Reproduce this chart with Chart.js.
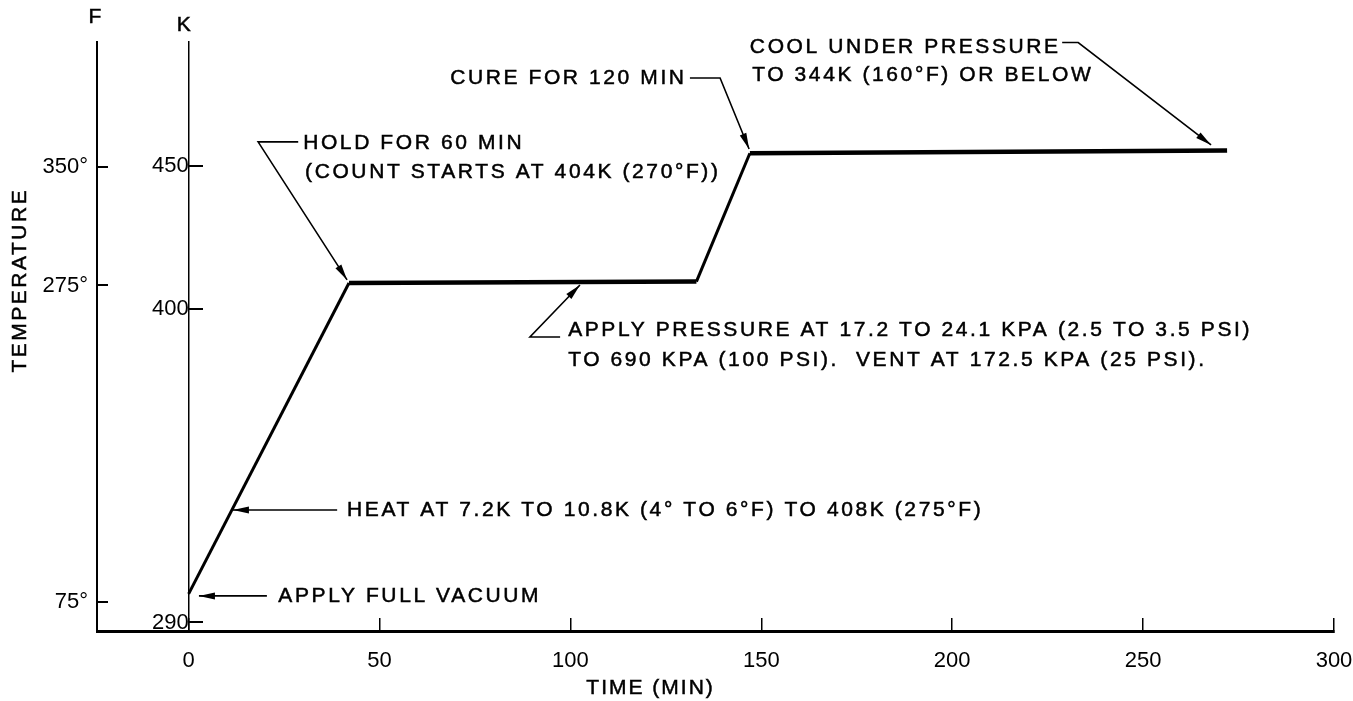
<!DOCTYPE html>
<html>
<head>
<meta charset="utf-8">
<script src="https://cdn.jsdelivr.net/npm/chart.js@4.4.1/dist/chart.umd.min.js"></script>
<style>
  html, body { margin: 0; padding: 0; background: #fff; }
</style>
</head>
<body>
<canvas id="chart" width="1353" height="701"></canvas>
<script>
// cure cycle: time (min) vs temperature (K)
const timeMin = [0, 42, 133, 147, 272];
const tempK = [300, 409, 409.5, 454.5, 455.5];

const timeTicks = [0, 50, 100, 150, 200, 250, 300];
const kelvinTicks = [290, 400, 450];
const fahrenheitTicks = [75, 275, 350];

const timeRange = [-24, 300];
const kelvinRange = [287, 493.5];

const toF = k => (k - 273.15) * 1.8 + 32;

// callout texts, anchored in data units (min, K)
const notes = [
  { text: "APPLY FULL VACUUM", x: 23.5, y: 299.3 },
  { text: "HEAT AT 7.2K TO 10.8K (4° TO 6°F) TO 408K (275°F)", x: 41.5, y: 329.4 },
  { text: "HOLD FOR 60 MIN", x: 30.0, y: 458.1 },
  { text: "(COUNT STARTS AT 404K (270°F))", x: 30.5, y: 447.9 },
  { text: "APPLY PRESSURE AT 17.2 TO 24.1 KPA (2.5 TO 3.5 PSI)", x: 99.4, y: 392.5 },
  { text: "TO 690 KPA (100 PSI).  VENT AT 172.5 KPA (25 PSI).", x: 99.4, y: 382.0 },
  { text: "CURE FOR 120 MIN", x: 68.5, y: 480.9 },
  { text: "COOL UNDER PRESSURE", x: 147.0, y: 491.8 },
  { text: "TO 344K (160°F) OR BELOW", x: 147.6, y: 482.0 }
];

// leader lines, last point is the arrow tip
const leaders = [
  [[20.5, 299.3], [2.7, 299.3]],
  [[38.9, 329.4], [11.6, 329.4]],
  [[28.7, 458.5], [18.2, 458.5], [41.5, 410.1]],
  [[97.3, 390.1], [89.4, 390.1], [102.5, 408.3]],
  [[131.3, 480.9], [139.2, 480.9], [146.8, 456.0]],
  [[228.8, 493.3], [233.0, 493.3], [267.8, 457.4]]
];

const FONT = '"Liberation Sans", Arial, sans-serif';

function arrowHead(ctx, from, to) {
  const ang = Math.atan2(to[1] - from[1], to[0] - from[0]);
  const len = 16, half = 3.5;
  ctx.save();
  ctx.translate(to[0], to[1]);
  ctx.rotate(ang);
  ctx.beginPath();
  ctx.moveTo(0, 0);
  ctx.lineTo(-len, -half);
  ctx.lineTo(-len, half);
  ctx.closePath();
  ctx.fill();
  ctx.restore();
}

// filled text with a hairline stroke, closer to the heavy drafting letters
function label(ctx, text, px, py) {
  ctx.fillText(text, px, py);
  ctx.strokeText(text, px, py);
}

const annotate = {
  id: "annotate",
  afterDraw(chart) {
    const { ctx } = chart;
    const x = chart.scales.x;
    const y = chart.scales.y;
    const yF = chart.scales.yF;

    ctx.save();
    ctx.fillStyle = "#000";
    ctx.strokeStyle = "#000";
    ctx.textBaseline = "middle";
    ctx.textAlign = "left";
    ctx.font = "21px " + FONT;
    ctx.letterSpacing = "2.6px";
    ctx.lineWidth = 0.5;

    notes.forEach(n => {
      label(ctx, n.text, x.getPixelForValue(n.x), y.getPixelForValue(n.y));
    });

    ctx.lineWidth = 1.6;
    leaders.forEach(pts => {
      const p = pts.map(([a, b]) => [x.getPixelForValue(a), y.getPixelForValue(b)]);
      ctx.beginPath();
      ctx.moveTo(p[0][0], p[0][1]);
      p.slice(1).forEach(q => ctx.lineTo(q[0], q[1]));
      ctx.stroke();
      arrowHead(ctx, p[p.length - 2], p[p.length - 1]);
    });

    // axis names
    ctx.lineWidth = 0.5;
    ctx.font = "21px " + FONT;
    ctx.letterSpacing = "0px";
    ctx.textAlign = "center";
    label(ctx, "F", yF.right - 2, 17);
    label(ctx, "K", x.getPixelForValue(0) - 5, 25);

    ctx.letterSpacing = "2px";
    label(ctx, "TIME (MIN)", x.getPixelForValue(121), x.bottom - 13);

    ctx.save();
    ctx.translate(20, y.getPixelForValue(410));
    ctx.rotate(-Math.PI / 2);
    ctx.letterSpacing = "2.5px";
    label(ctx, "TEMPERATURE", 0, 0);
    ctx.restore();

    ctx.restore();
  }
};

const tickFont = { family: FONT, size: 22 };

new Chart(document.getElementById("chart"), {
  type: "line",
  data: {
    datasets: [{
      xAxisID: "x",
      yAxisID: "y",
      data: timeMin.map((t, i) => ({ x: t, y: tempK[i] })),
      borderColor: "#000",
      borderWidth: 3,
      pointRadius: 0,
      tension: 0,
      segment: {
        borderWidth: c => (Math.abs(c.p1.parsed.y - c.p0.parsed.y) < 5 ? 4.5 : 3)
      }
    }]
  },
  options: {
    responsive: false,
    animation: false,
    devicePixelRatio: 1,
    layout: { padding: { left: 0, top: 42, right: 19, bottom: 0 } },
    plugins: { legend: { display: false }, tooltip: { enabled: false } },
    scales: {
      x: {
        type: "linear",
        position: "bottom",
        min: timeRange[0],
        max: timeRange[1],
        afterBuildTicks: s => { s.ticks = timeTicks.map(v => ({ value: v })); },
        afterFit: s => { s.height = 70; s.paddingLeft = 0; s.paddingRight = 0; },
        border: { display: true, color: "#000", width: 3 },
        grid: { drawOnChartArea: false, drawTicks: true, tickLength: -13, color: "#000", lineWidth: 1.5 },
        ticks: { color: "#000", font: tickFont, padding: 30, maxRotation: 0 }
      },
      yF: {
        type: "linear",
        position: "left",
        min: toF(kelvinRange[0]),
        max: toF(kelvinRange[1]),
        afterBuildTicks: s => { s.ticks = fahrenheitTicks.map(v => ({ value: v })); },
        afterFit: s => { s.width = 97; },
        border: { display: true, color: "#000", width: 2 },
        grid: { drawOnChartArea: false, drawTicks: true, tickLength: -11, color: "#000", lineWidth: 2 },
        ticks: { color: "#000", font: tickFont, padding: 20, callback: v => v + "°" }
      },
      y: {
        type: "linear",
        position: { x: 0 },
        min: kelvinRange[0],
        max: kelvinRange[1],
        afterBuildTicks: s => { s.ticks = kelvinTicks.map(v => ({ value: v })); },
        border: { display: true, color: "#000", width: 1.5 },
        grid: { drawOnChartArea: false, drawTicks: true, tickLength: -15, color: "#000", lineWidth: 2 },
        ticks: { color: "#000", font: tickFont, padding: 27 }
      }
    }
  },
  plugins: [annotate]
});
</script>
</body>
</html>
